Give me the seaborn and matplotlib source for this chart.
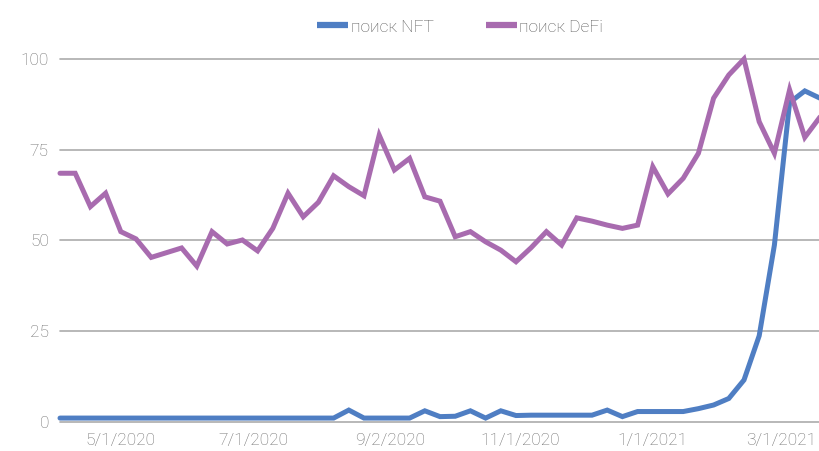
import numpy as np
import pandas as pd
import matplotlib
matplotlib.use("Agg")
import matplotlib.pyplot as plt
import matplotlib.dates as mdates
from matplotlib.lines import Line2D
import seaborn as sns

# ---- data (weekly) ----
start_date = "2020-04-03"
n_weeks = 51
nft = [1, 1, 1, 1, 1, 1, 1, 1, 1, 1,
       1, 1, 1, 1, 1, 1, 1, 1, 1, 3.2,
       1, 1, 1, 1, 3, 1.4, 1.5, 3, 1, 3,
       1.7, 1.8, 1.8, 1.8, 1.8, 1.8, 3.2, 1.4, 2.8, 2.8,
       2.8, 2.8, 3.6, 4.6, 6.4, 11.5, 23.7, 48.7, 88, 91.2,
       89.2]
defi = [68.5, 68.5, 59.3, 63.0, 52.4, 50.4, 45.3, 46.6, 47.9, 42.9,
        52.4, 49.0, 50.1, 47.1, 53.3, 63.0, 56.5, 60.5, 67.8, 64.8,
        62.3, 79.0, 69.4, 72.6, 62.0, 60.8, 51.0, 52.4, 49.6, 47.3,
        44.1, 48.0, 52.4, 48.7, 56.2, 55.3, 54.2, 53.3, 54.2, 70.3,
        62.8, 67.1, 74.0, 89.2, 95.6, 100, 82.7, 74.0, 91.5, 78.4,
        84.0]
series_names = ["поиск NFT", "поиск DeFi"]
tick_dates = ["2020-05-01", "2020-07-01", "2020-09-02", "2020-11-01", "2021-01-01", "2021-03-01"]
tick_labels = ["5/1/2020", "7/1/2020", "9/2/2020", "11/1/2020", "1/1/2021", "3/1/2021"]
y_ticks = [0, 25, 50, 75, 100]

dates = pd.date_range(start_date, periods=n_weeks, freq="7D")
df = pd.concat([
    pd.DataFrame({"date": dates, "value": nft, "series": series_names[0]}),
    pd.DataFrame({"date": dates, "value": defi, "series": series_names[1]}),
])

colors = {series_names[0]: "#4F7EC3", series_names[1]: "#A86BAF"}
tick_color = "#6E6E6E"
grid_color = "#ABABAB"

sns.set_theme(style="white")
plt.rcParams["font.family"] = ["Roboto", "DejaVu Sans"]

W, H = 820, 451
fig = plt.figure(figsize=(W / 100, H / 100), dpi=100)
left_px, right_px = 60, 820
top_px, bottom_px = 59, 421.7
ax = fig.add_axes([left_px / W, 1 - bottom_px / H, (right_px - left_px) / W, (bottom_px - top_px) / H])

# gridlines drawn first
for yv in y_ticks:
    ax.axhline(yv, color=grid_color, lw=1.2, zorder=0)

sns.lineplot(data=df, x="date", y="value", hue="series", palette=colors,
             linewidth=3.6, ax=ax, legend=False, zorder=3)
for ln in ax.get_lines():
    ln.set_clip_on(False)
    ln.set_solid_joinstyle("miter")

ax.set_xlim(dates[0], dates[-1])
ax.set_ylim(0, 100)
ax.set_yticks(y_ticks)
ax.set_yticklabels([str(v) for v in y_ticks])
ax.set_xticks(pd.to_datetime(tick_dates))
ax.set_xticklabels(tick_labels)
ax.tick_params(axis="both", length=0, labelsize=12.5, colors=tick_color)
ax.tick_params(axis="y", pad=8)
ax.tick_params(axis="x", pad=8)
for lab in ax.get_xticklabels() + ax.get_yticklabels():
    lab.set_fontweight("light")
ax.set_xlabel("")
ax.set_ylabel("")
for s in ax.spines.values():
    s.set_visible(False)

handles = [Line2D([0], [0], color=colors[n], lw=4.5, solid_capstyle="butt") for n in series_names]
leg = fig.legend(handles, series_names, loc="center", bbox_to_anchor=(460 / W, 1 - 27 / H),
                 ncol=2, frameon=False, handlelength=1.8, handletextpad=0.15,
                 columnspacing=3.0, prop={"size": 12.5, "weight": "light"})
for t in leg.get_texts():
    t.set_color("#595959")

fig.savefig("out.png", dpi=100)
